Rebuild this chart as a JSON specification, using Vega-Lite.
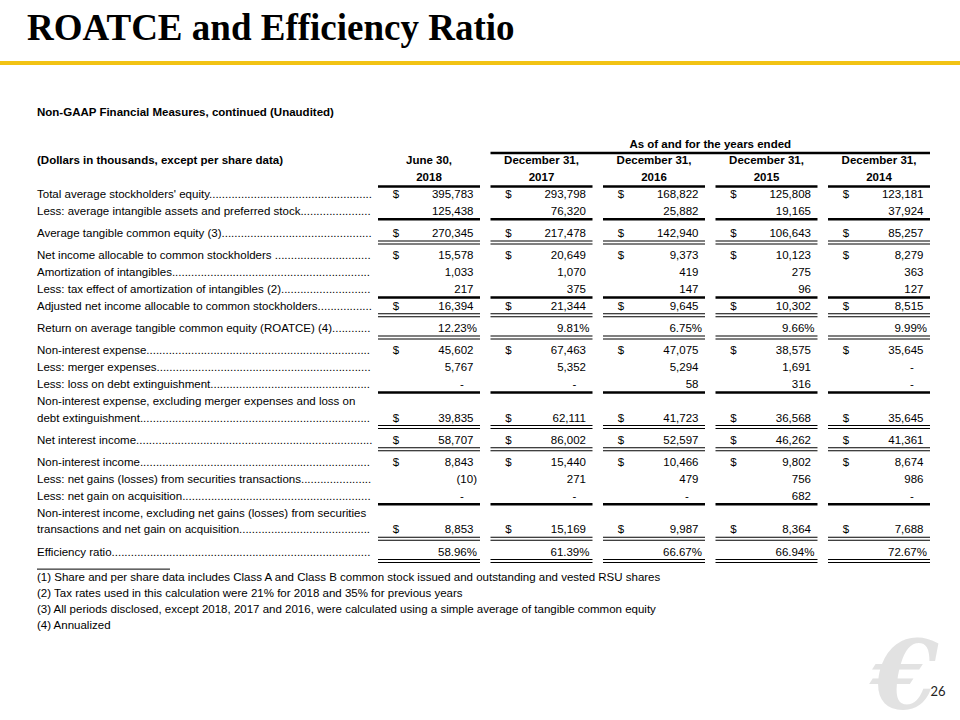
{
  "$schema": "https://vega.github.io/schema/vega-lite/v6.json",
  "width": 960,
  "height": 720,
  "autosize": {"type": "none"},
  "padding": 0,
  "background": "white",
  "config": {"view": {"stroke": null}, "text": {"font": "Liberation Sans", "fontSize": 11.5, "color": "#000"}},
  "datasets": {
    "title": [{"grp": 0, "row": -8.2, "t": "ROATCE and Efficiency Ratio"}],
    "band": [{"grp": 0, "row": -6.86}],
    "headings": [
      {"grp": 0, "row": -3.88, "t": "Non-GAAP Financial Measures, continued (Unaudited)"},
      {"grp": 0, "row": -1, "t": "(Dollars in thousands, except per share data)"}
    ],
    "colheads": [
      {"grp": 0, "col": 3.5, "row": -2, "t": "As of and for the years ended"},
      {"grp": 0, "col": 1, "row": -1, "t": "June 30,"}, {"grp": 0, "col": 1, "row": 0, "t": "2018"},
      {"grp": 0, "col": 2, "row": -1, "t": "December 31,"}, {"grp": 0, "col": 2, "row": 0, "t": "2017"},
      {"grp": 0, "col": 3, "row": -1, "t": "December 31,"}, {"grp": 0, "col": 3, "row": 0, "t": "2016"},
      {"grp": 0, "col": 4, "row": -1, "t": "December 31,"}, {"grp": 0, "col": 4, "row": 0, "t": "2015"},
      {"grp": 0, "col": 5, "row": -1, "t": "December 31,"}, {"grp": 0, "col": 5, "row": 0, "t": "2014"}
    ],
    "spanrule": [{"grp": 0, "row": -1.5, "c1": 2, "c2": 5}],
    "thick": [
      {"row": 0.5, "grp": 0, "col": [1, 2, 3, 4, 5]},
      {"row": 2.45, "grp": 0, "col": [1, 2, 3, 4, 5]},
      {"row": 6.45, "grp": 2, "col": [1, 2, 3, 4, 5]},
      {"row": 11.45, "grp": 4, "col": [1, 2, 3, 4, 5]},
      {"row": 17.45, "grp": 6, "col": [1, 2, 3, 4, 5]}
    ],
    "double": [
      {"row": 3.5, "grp": 1, "col": [1, 2, 3, 4, 5]},
      {"row": 7.5, "grp": 2, "col": [1, 2, 3, 4, 5]},
      {"row": 8.5, "grp": 3, "col": [1, 2, 3, 4, 5]},
      {"row": 13.5, "grp": 4, "col": [1, 2, 3, 4, 5]},
      {"row": 14.5, "grp": 5, "col": [1, 2, 3, 4, 5]},
      {"row": 19.5, "grp": 6, "col": [1, 2, 3, 4, 5]},
      {"row": 20.5, "grp": 7, "col": [1, 2, 3, 4, 5]}
    ],
    "separator": [{"row": 20.65, "grp": 8}],
    "leaders": [
      {"row": 1, "grp": 0, "t": "Total average stockholders' equity........................................................................................................................"},
      {"row": 2, "grp": 0, "t": "Less: average intangible assets and preferred stock........................................................................................................................"},
      {"row": 3, "grp": 1, "t": "Average tangible common equity (3)........................................................................................................................"},
      {"row": 4, "grp": 2, "t": "Net income allocable to common stockholders ........................................................................................................................"},
      {"row": 5, "grp": 2, "t": "Amortization of intangibles........................................................................................................................"},
      {"row": 6, "grp": 2, "t": "Less: tax effect of amortization of intangibles (2)........................................................................................................................"},
      {"row": 7, "grp": 2, "t": "Adjusted net income allocable to common stockholders........................................................................................................................"},
      {"row": 8, "grp": 3, "t": "Return on average tangible common equity (ROATCE) (4)........................................................................................................................"},
      {"row": 9, "grp": 4, "t": "Non-interest expense........................................................................................................................"},
      {"row": 10, "grp": 4, "t": "Less: merger expenses........................................................................................................................"},
      {"row": 11, "grp": 4, "t": "Less: loss on debt extinguishment........................................................................................................................"},
      {"row": 13, "grp": 4, "t": "debt extinguishment........................................................................................................................"},
      {"row": 14, "grp": 5, "t": "Net interest income........................................................................................................................"},
      {"row": 15, "grp": 6, "t": "Non-interest income........................................................................................................................"},
      {"row": 16, "grp": 6, "t": "Less: net gains (losses) from securities transactions........................................................................................................................"},
      {"row": 17, "grp": 6, "t": "Less: net gain on acquisition........................................................................................................................"},
      {"row": 19, "grp": 6, "t": "transactions and net gain on acquisition........................................................................................................................"},
      {"row": 20, "grp": 7, "t": "Efficiency ratio........................................................................................................................"}
    ],
    "plain": [
      {"row": 12, "grp": 4, "t": "Non-interest expense, excluding merger expenses and loss on"},
      {"row": 18, "grp": 6, "t": "Non-interest income, excluding net gains (losses) from securities"}
    ],
    "cells": [
      {"row": 1, "grp": 0, "col": 1, "v": "395,783", "cur": "$"},
      {"row": 1, "grp": 0, "col": 2, "v": "293,798", "cur": "$"},
      {"row": 1, "grp": 0, "col": 3, "v": "168,822", "cur": "$"},
      {"row": 1, "grp": 0, "col": 4, "v": "125,808", "cur": "$"},
      {"row": 1, "grp": 0, "col": 5, "v": "123,181", "cur": "$"},
      {"row": 2, "grp": 0, "col": 1, "v": "125,438", "cur": ""},
      {"row": 2, "grp": 0, "col": 2, "v": "76,320", "cur": ""},
      {"row": 2, "grp": 0, "col": 3, "v": "25,882", "cur": ""},
      {"row": 2, "grp": 0, "col": 4, "v": "19,165", "cur": ""},
      {"row": 2, "grp": 0, "col": 5, "v": "37,924", "cur": ""},
      {"row": 3, "grp": 1, "col": 1, "v": "270,345", "cur": "$"},
      {"row": 3, "grp": 1, "col": 2, "v": "217,478", "cur": "$"},
      {"row": 3, "grp": 1, "col": 3, "v": "142,940", "cur": "$"},
      {"row": 3, "grp": 1, "col": 4, "v": "106,643", "cur": "$"},
      {"row": 3, "grp": 1, "col": 5, "v": "85,257", "cur": "$"},
      {"row": 4, "grp": 2, "col": 1, "v": "15,578", "cur": "$"},
      {"row": 4, "grp": 2, "col": 2, "v": "20,649", "cur": "$"},
      {"row": 4, "grp": 2, "col": 3, "v": "9,373", "cur": "$"},
      {"row": 4, "grp": 2, "col": 4, "v": "10,123", "cur": "$"},
      {"row": 4, "grp": 2, "col": 5, "v": "8,279", "cur": "$"},
      {"row": 5, "grp": 2, "col": 1, "v": "1,033", "cur": ""},
      {"row": 5, "grp": 2, "col": 2, "v": "1,070", "cur": ""},
      {"row": 5, "grp": 2, "col": 3, "v": "419", "cur": ""},
      {"row": 5, "grp": 2, "col": 4, "v": "275", "cur": ""},
      {"row": 5, "grp": 2, "col": 5, "v": "363", "cur": ""},
      {"row": 6, "grp": 2, "col": 1, "v": "217", "cur": ""},
      {"row": 6, "grp": 2, "col": 2, "v": "375", "cur": ""},
      {"row": 6, "grp": 2, "col": 3, "v": "147", "cur": ""},
      {"row": 6, "grp": 2, "col": 4, "v": "96", "cur": ""},
      {"row": 6, "grp": 2, "col": 5, "v": "127", "cur": ""},
      {"row": 7, "grp": 2, "col": 1, "v": "16,394", "cur": "$"},
      {"row": 7, "grp": 2, "col": 2, "v": "21,344", "cur": "$"},
      {"row": 7, "grp": 2, "col": 3, "v": "9,645", "cur": "$"},
      {"row": 7, "grp": 2, "col": 4, "v": "10,302", "cur": "$"},
      {"row": 7, "grp": 2, "col": 5, "v": "8,515", "cur": "$"},
      {"row": 8, "grp": 3, "col": 1, "v": "12.23%", "cur": ""},
      {"row": 8, "grp": 3, "col": 2, "v": "9.81%", "cur": ""},
      {"row": 8, "grp": 3, "col": 3, "v": "6.75%", "cur": ""},
      {"row": 8, "grp": 3, "col": 4, "v": "9.66%", "cur": ""},
      {"row": 8, "grp": 3, "col": 5, "v": "9.99%", "cur": ""},
      {"row": 9, "grp": 4, "col": 1, "v": "45,602", "cur": "$"},
      {"row": 9, "grp": 4, "col": 2, "v": "67,463", "cur": "$"},
      {"row": 9, "grp": 4, "col": 3, "v": "47,075", "cur": "$"},
      {"row": 9, "grp": 4, "col": 4, "v": "38,575", "cur": "$"},
      {"row": 9, "grp": 4, "col": 5, "v": "35,645", "cur": "$"},
      {"row": 10, "grp": 4, "col": 1, "v": "5,767", "cur": ""},
      {"row": 10, "grp": 4, "col": 2, "v": "5,352", "cur": ""},
      {"row": 10, "grp": 4, "col": 3, "v": "5,294", "cur": ""},
      {"row": 10, "grp": 4, "col": 4, "v": "1,691", "cur": ""},
      {"row": 10, "grp": 4, "col": 5, "v": "-", "cur": ""},
      {"row": 11, "grp": 4, "col": 1, "v": "-", "cur": ""},
      {"row": 11, "grp": 4, "col": 2, "v": "-", "cur": ""},
      {"row": 11, "grp": 4, "col": 3, "v": "58", "cur": ""},
      {"row": 11, "grp": 4, "col": 4, "v": "316", "cur": ""},
      {"row": 11, "grp": 4, "col": 5, "v": "-", "cur": ""},
      {"row": 13, "grp": 4, "col": 1, "v": "39,835", "cur": "$"},
      {"row": 13, "grp": 4, "col": 2, "v": "62,111", "cur": "$"},
      {"row": 13, "grp": 4, "col": 3, "v": "41,723", "cur": "$"},
      {"row": 13, "grp": 4, "col": 4, "v": "36,568", "cur": "$"},
      {"row": 13, "grp": 4, "col": 5, "v": "35,645", "cur": "$"},
      {"row": 14, "grp": 5, "col": 1, "v": "58,707", "cur": "$"},
      {"row": 14, "grp": 5, "col": 2, "v": "86,002", "cur": "$"},
      {"row": 14, "grp": 5, "col": 3, "v": "52,597", "cur": "$"},
      {"row": 14, "grp": 5, "col": 4, "v": "46,262", "cur": "$"},
      {"row": 14, "grp": 5, "col": 5, "v": "41,361", "cur": "$"},
      {"row": 15, "grp": 6, "col": 1, "v": "8,843", "cur": "$"},
      {"row": 15, "grp": 6, "col": 2, "v": "15,440", "cur": "$"},
      {"row": 15, "grp": 6, "col": 3, "v": "10,466", "cur": "$"},
      {"row": 15, "grp": 6, "col": 4, "v": "9,802", "cur": "$"},
      {"row": 15, "grp": 6, "col": 5, "v": "8,674", "cur": "$"},
      {"row": 16, "grp": 6, "col": 1, "v": "(10)", "cur": ""},
      {"row": 16, "grp": 6, "col": 2, "v": "271", "cur": ""},
      {"row": 16, "grp": 6, "col": 3, "v": "479", "cur": ""},
      {"row": 16, "grp": 6, "col": 4, "v": "756", "cur": ""},
      {"row": 16, "grp": 6, "col": 5, "v": "986", "cur": ""},
      {"row": 17, "grp": 6, "col": 1, "v": "-", "cur": ""},
      {"row": 17, "grp": 6, "col": 2, "v": "-", "cur": ""},
      {"row": 17, "grp": 6, "col": 3, "v": "-", "cur": ""},
      {"row": 17, "grp": 6, "col": 4, "v": "682", "cur": ""},
      {"row": 17, "grp": 6, "col": 5, "v": "-", "cur": ""},
      {"row": 19, "grp": 6, "col": 1, "v": "8,853", "cur": "$"},
      {"row": 19, "grp": 6, "col": 2, "v": "15,169", "cur": "$"},
      {"row": 19, "grp": 6, "col": 3, "v": "9,987", "cur": "$"},
      {"row": 19, "grp": 6, "col": 4, "v": "8,364", "cur": "$"},
      {"row": 19, "grp": 6, "col": 5, "v": "7,688", "cur": "$"},
      {"row": 20, "grp": 7, "col": 1, "v": "58.96%", "cur": ""},
      {"row": 20, "grp": 7, "col": 2, "v": "61.39%", "cur": ""},
      {"row": 20, "grp": 7, "col": 3, "v": "66.67%", "cur": ""},
      {"row": 20, "grp": 7, "col": 4, "v": "66.94%", "cur": ""},
      {"row": 20, "grp": 7, "col": 5, "v": "72.67%", "cur": ""}
    ],
    "footnotes": [
      {"row": 21.2, "grp": 8, "t": "(1) Share and per share data includes Class A and Class B common stock issued and outstanding and vested RSU shares"},
      {"row": 22.15, "grp": 8, "t": "(2) Tax rates used in this calculation were 21% for 2018 and 35% for previous years"},
      {"row": 23.1, "grp": 8, "t": "(3) All periods disclosed, except 2018, 2017 and 2016, were calculated using a simple average of tangible common equity"},
      {"row": 24.05, "grp": 8, "t": "(4) Annualized"}
    ],
    "page": [{"grp": 0, "row": 30.58, "t": "26"}],
    "logo": [{"grp": 0, "row": 29.87, "t": "€"}]
  },
  "layer": [
    {
      "data": {"name": "band"},
      "mark": {"type": "rule", "stroke": "#f2c314", "strokeWidth": 4},
      "encoding": {
        "x": {"datum": -2.8133, "type": "quantitative", "scale": {"domain": [-2.8133, 5.72], "zero": false, "nice": false}, "axis": null},
        "x2": {"datum": 5.72},
        "y": {"field": "grp", "type": "ordinal", "scale": {"domain": [0, 1, 2, 3, 4, 5, 6, 7, 8], "range": [0, 49.5], "padding": 0, "paddingOuter": 0}, "axis": null},
        "yOffset": {"field": "row", "type": "quantitative", "scale": {"domain": [-10.607, 32.25], "range": [0, 720], "zero": false, "nice": false}}
      }
    },
    {
      "data": {"name": "title"},
      "mark": {"type": "text", "font": "Liberation Serif", "fontWeight": "bold", "fontSize": 37, "align": "left", "baseline": "alphabetic"},
      "encoding": {
        "x": {"datum": -2.5733, "type": "quantitative", "scale": {"domain": [-2.8133, 5.72], "zero": false, "nice": false}, "axis": null},
        "y": {"field": "grp", "type": "ordinal", "scale": {"domain": [0, 1, 2, 3, 4, 5, 6, 7, 8], "range": [0, 49.5], "padding": 0, "paddingOuter": 0}, "axis": null},
        "yOffset": {"field": "row", "type": "quantitative", "scale": {"domain": [-10.607, 32.25], "range": [0, 720], "zero": false, "nice": false}},
        "text": {"field": "t"}
      }
    },
    {
      "data": {"name": "headings"},
      "mark": {"type": "text", "fontWeight": "bold", "align": "left", "baseline": "middle"},
      "encoding": {
        "x": {"datum": -2.4844, "type": "quantitative", "scale": {"domain": [-2.8133, 5.72], "zero": false, "nice": false}, "axis": null},
        "y": {"field": "grp", "type": "ordinal", "scale": {"domain": [0, 1, 2, 3, 4, 5, 6, 7, 8], "range": [0, 49.5], "padding": 0, "paddingOuter": 0}, "axis": null},
        "yOffset": {"field": "row", "type": "quantitative", "scale": {"domain": [-10.607, 32.25], "range": [0, 720], "zero": false, "nice": false}},
        "text": {"field": "t"}
      }
    },
    {
      "data": {"name": "colheads"},
      "mark": {"type": "text", "fontWeight": "bold", "align": "center", "baseline": "middle"},
      "encoding": {
        "x": {"field": "col", "type": "quantitative", "scale": {"domain": [-2.8133, 5.72], "zero": false, "nice": false}, "axis": null},
        "y": {"field": "grp", "type": "ordinal", "scale": {"domain": [0, 1, 2, 3, 4, 5, 6, 7, 8], "range": [0, 49.5], "padding": 0, "paddingOuter": 0}, "axis": null},
        "yOffset": {"field": "row", "type": "quantitative", "scale": {"domain": [-10.607, 32.25], "range": [0, 720], "zero": false, "nice": false}},
        "text": {"field": "t"}
      }
    },
    {
      "data": {"name": "spanrule"},
      "mark": {"type": "rule", "stroke": "#000", "strokeWidth": 2.5, "xOffset": -51, "x2Offset": 51},
      "encoding": {
        "x": {"field": "c1", "type": "quantitative", "scale": {"domain": [-2.8133, 5.72], "zero": false, "nice": false}, "axis": null},
        "x2": {"field": "c2"},
        "y": {"field": "grp", "type": "ordinal", "scale": {"domain": [0, 1, 2, 3, 4, 5, 6, 7, 8], "range": [0, 49.5], "padding": 0, "paddingOuter": 0}, "axis": null},
        "yOffset": {"field": "row", "type": "quantitative", "scale": {"domain": [-10.607, 32.25], "range": [0, 720], "zero": false, "nice": false}}
      }
    },
    {
      "data": {"name": "thick"},
      "transform": [{"flatten": ["col"]}],
      "mark": {"type": "rule", "stroke": "#000", "strokeWidth": 2.5, "xOffset": -51, "x2Offset": 51},
      "encoding": {
        "x": {"field": "col", "type": "quantitative", "scale": {"domain": [-2.8133, 5.72], "zero": false, "nice": false}, "axis": null},
        "x2": {"field": "col"},
        "y": {"field": "grp", "type": "ordinal", "scale": {"domain": [0, 1, 2, 3, 4, 5, 6, 7, 8], "range": [0, 49.5], "padding": 0, "paddingOuter": 0}, "axis": null},
        "yOffset": {"field": "row", "type": "quantitative", "scale": {"domain": [-10.607, 32.25], "range": [0, 720], "zero": false, "nice": false}}
      }
    },
    {
      "data": {"name": "double"},
      "transform": [{"flatten": ["col"]}],
      "mark": {"type": "rule", "stroke": "#000", "strokeWidth": 4, "xOffset": -51, "x2Offset": 51},
      "encoding": {
        "x": {"field": "col", "type": "quantitative", "scale": {"domain": [-2.8133, 5.72], "zero": false, "nice": false}, "axis": null},
        "x2": {"field": "col"},
        "y": {"field": "grp", "type": "ordinal", "scale": {"domain": [0, 1, 2, 3, 4, 5, 6, 7, 8], "range": [0, 49.5], "padding": 0, "paddingOuter": 0}, "axis": null},
        "yOffset": {"field": "row", "type": "quantitative", "scale": {"domain": [-10.607, 32.25], "range": [0, 720], "zero": false, "nice": false}}
      }
    },
    {
      "data": {"name": "double"},
      "transform": [{"flatten": ["col"]}],
      "mark": {"type": "rule", "stroke": "#fff", "strokeWidth": 2, "xOffset": -52, "x2Offset": 52},
      "encoding": {
        "x": {"field": "col", "type": "quantitative", "scale": {"domain": [-2.8133, 5.72], "zero": false, "nice": false}, "axis": null},
        "x2": {"field": "col"},
        "y": {"field": "grp", "type": "ordinal", "scale": {"domain": [0, 1, 2, 3, 4, 5, 6, 7, 8], "range": [0, 49.5], "padding": 0, "paddingOuter": 0}, "axis": null},
        "yOffset": {"field": "row", "type": "quantitative", "scale": {"domain": [-10.607, 32.25], "range": [0, 720], "zero": false, "nice": false}}
      }
    },
    {
      "data": {"name": "leaders"},
      "mark": {"type": "text", "align": "left", "baseline": "middle", "limit": 336, "ellipsis": "."},
      "encoding": {
        "x": {"datum": -2.4844, "type": "quantitative", "scale": {"domain": [-2.8133, 5.72], "zero": false, "nice": false}, "axis": null},
        "y": {"field": "grp", "type": "ordinal", "scale": {"domain": [0, 1, 2, 3, 4, 5, 6, 7, 8], "range": [0, 49.5], "padding": 0, "paddingOuter": 0}, "axis": null},
        "yOffset": {"field": "row", "type": "quantitative", "scale": {"domain": [-10.607, 32.25], "range": [0, 720], "zero": false, "nice": false}},
        "text": {"field": "t"}
      }
    },
    {
      "data": {"name": "plain"},
      "mark": {"type": "text", "align": "left", "baseline": "middle"},
      "encoding": {
        "x": {"datum": -2.4844, "type": "quantitative", "scale": {"domain": [-2.8133, 5.72], "zero": false, "nice": false}, "axis": null},
        "y": {"field": "grp", "type": "ordinal", "scale": {"domain": [0, 1, 2, 3, 4, 5, 6, 7, 8], "range": [0, 49.5], "padding": 0, "paddingOuter": 0}, "axis": null},
        "yOffset": {"field": "row", "type": "quantitative", "scale": {"domain": [-10.607, 32.25], "range": [0, 720], "zero": false, "nice": false}},
        "text": {"field": "t"}
      }
    },
    {
      "data": {"name": "cells"},
      "transform": [{"filter": "datum.cur == '$'"}],
      "mark": {"type": "text", "align": "center", "baseline": "middle", "dx": -33},
      "encoding": {
        "x": {"field": "col", "type": "quantitative", "scale": {"domain": [-2.8133, 5.72], "zero": false, "nice": false}, "axis": null},
        "y": {"field": "grp", "type": "ordinal", "scale": {"domain": [0, 1, 2, 3, 4, 5, 6, 7, 8], "range": [0, 49.5], "padding": 0, "paddingOuter": 0}, "axis": null},
        "yOffset": {"field": "row", "type": "quantitative", "scale": {"domain": [-10.607, 32.25], "range": [0, 720], "zero": false, "nice": false}},
        "text": {"field": "cur"}
      }
    },
    {
      "data": {"name": "cells"},
      "transform": [{"filter": "datum.v != '-' && indexof(datum.v, '%') < 0 && indexof(datum.v, '(') < 0"}],
      "mark": {"type": "text", "align": "right", "baseline": "middle", "dx": 44.5},
      "encoding": {
        "x": {"field": "col", "type": "quantitative", "scale": {"domain": [-2.8133, 5.72], "zero": false, "nice": false}, "axis": null},
        "y": {"field": "grp", "type": "ordinal", "scale": {"domain": [0, 1, 2, 3, 4, 5, 6, 7, 8], "range": [0, 49.5], "padding": 0, "paddingOuter": 0}, "axis": null},
        "yOffset": {"field": "row", "type": "quantitative", "scale": {"domain": [-10.607, 32.25], "range": [0, 720], "zero": false, "nice": false}},
        "text": {"field": "v"}
      }
    },
    {
      "data": {"name": "cells"},
      "transform": [{"filter": "indexof(datum.v, '%') >= 0 || indexof(datum.v, '(') >= 0"}],
      "mark": {"type": "text", "align": "right", "baseline": "middle", "dx": 48},
      "encoding": {
        "x": {"field": "col", "type": "quantitative", "scale": {"domain": [-2.8133, 5.72], "zero": false, "nice": false}, "axis": null},
        "y": {"field": "grp", "type": "ordinal", "scale": {"domain": [0, 1, 2, 3, 4, 5, 6, 7, 8], "range": [0, 49.5], "padding": 0, "paddingOuter": 0}, "axis": null},
        "yOffset": {"field": "row", "type": "quantitative", "scale": {"domain": [-10.607, 32.25], "range": [0, 720], "zero": false, "nice": false}},
        "text": {"field": "v"}
      }
    },
    {
      "data": {"name": "cells"},
      "transform": [{"filter": "datum.v == '-'"}],
      "mark": {"type": "text", "align": "center", "baseline": "middle", "dx": 33},
      "encoding": {
        "x": {"field": "col", "type": "quantitative", "scale": {"domain": [-2.8133, 5.72], "zero": false, "nice": false}, "axis": null},
        "y": {"field": "grp", "type": "ordinal", "scale": {"domain": [0, 1, 2, 3, 4, 5, 6, 7, 8], "range": [0, 49.5], "padding": 0, "paddingOuter": 0}, "axis": null},
        "yOffset": {"field": "row", "type": "quantitative", "scale": {"domain": [-10.607, 32.25], "range": [0, 720], "zero": false, "nice": false}},
        "text": {"field": "v"}
      }
    },
    {
      "data": {"name": "separator"},
      "mark": {"type": "rule", "stroke": "#000", "strokeWidth": 1},
      "encoding": {
        "x": {"datum": -2.4844, "type": "quantitative", "scale": {"domain": [-2.8133, 5.72], "zero": false, "nice": false}, "axis": null},
        "x2": {"datum": -1.3022},
        "y": {"field": "grp", "type": "ordinal", "scale": {"domain": [0, 1, 2, 3, 4, 5, 6, 7, 8], "range": [0, 49.5], "padding": 0, "paddingOuter": 0}, "axis": null},
        "yOffset": {"field": "row", "type": "quantitative", "scale": {"domain": [-10.607, 32.25], "range": [0, 720], "zero": false, "nice": false}}
      }
    },
    {
      "data": {"name": "footnotes"},
      "mark": {"type": "text", "align": "left", "baseline": "middle"},
      "encoding": {
        "x": {"datum": -2.4844, "type": "quantitative", "scale": {"domain": [-2.8133, 5.72], "zero": false, "nice": false}, "axis": null},
        "y": {"field": "grp", "type": "ordinal", "scale": {"domain": [0, 1, 2, 3, 4, 5, 6, 7, 8], "range": [0, 49.5], "padding": 0, "paddingOuter": 0}, "axis": null},
        "yOffset": {"field": "row", "type": "quantitative", "scale": {"domain": [-10.607, 32.25], "range": [0, 720], "zero": false, "nice": false}},
        "text": {"field": "t"}
      }
    },
    {
      "data": {"name": "logo"},
      "mark": {"type": "text", "font": "DejaVu Serif", "fontStyle": "italic", "fontWeight": "bold", "fontSize": 96, "color": "#e2e2e2", "align": "center", "baseline": "middle"},
      "encoding": {
        "x": {"datum": 5.231, "type": "quantitative", "scale": {"domain": [-2.8133, 5.72], "zero": false, "nice": false}, "axis": null},
        "y": {"field": "grp", "type": "ordinal", "scale": {"domain": [0, 1, 2, 3, 4, 5, 6, 7, 8], "range": [0, 49.5], "padding": 0, "paddingOuter": 0}, "axis": null},
        "yOffset": {"field": "row", "type": "quantitative", "scale": {"domain": [-10.607, 32.25], "range": [0, 720], "zero": false, "nice": false}},
        "text": {"field": "t"}
      }
    },
    {
      "data": {"name": "page"},
      "mark": {"type": "text", "font": "Lato", "fontSize": 13, "color": "#222", "align": "center", "baseline": "middle"},
      "encoding": {
        "x": {"datum": 5.525, "type": "quantitative", "scale": {"domain": [-2.8133, 5.72], "zero": false, "nice": false}, "axis": null},
        "y": {"field": "grp", "type": "ordinal", "scale": {"domain": [0, 1, 2, 3, 4, 5, 6, 7, 8], "range": [0, 49.5], "padding": 0, "paddingOuter": 0}, "axis": null},
        "yOffset": {"field": "row", "type": "quantitative", "scale": {"domain": [-10.607, 32.25], "range": [0, 720], "zero": false, "nice": false}},
        "text": {"field": "t"}
      }
    }
  ]
}
